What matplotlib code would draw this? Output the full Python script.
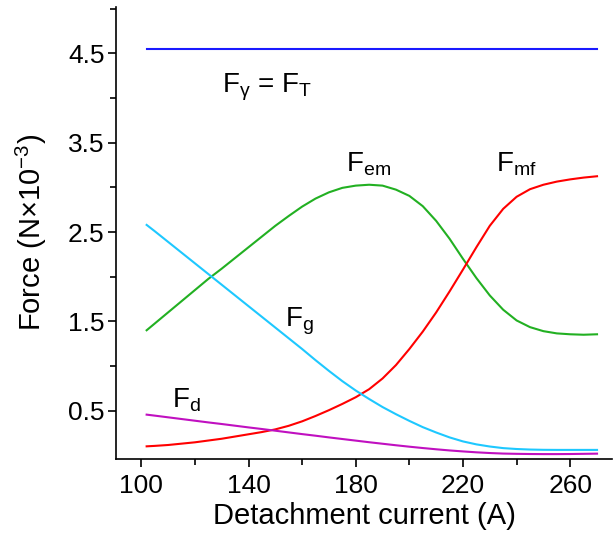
import matplotlib.pyplot as plt
from matplotlib.ticker import FixedLocator

plt.rcParams["font.family"] = ["Liberation Sans", "DejaVu Sans"]
plt.rcParams["mathtext.fontset"] = "custom"
plt.rcParams["mathtext.rm"] = "Liberation Sans"
plt.rcParams["mathtext.it"] = "Liberation Sans"

# Detachment current (A)
current = [102, 105, 110, 115, 120, 125, 130, 135, 140, 145, 150, 155,
           160, 165, 170, 175, 180, 185, 190, 195, 200, 205, 210, 215,
           220, 225, 230, 235, 240, 245, 250, 255, 260, 265, 270]

# Force components (N x 1e-3)
f_gamma = [4.55] * len(current)
f_em = [1.40, 1.475, 1.60, 1.725, 1.85, 1.975, 2.09, 2.21, 2.33, 2.45, 2.57, 2.68,
        2.785, 2.875, 2.945, 2.995, 3.02, 3.03, 3.02, 2.975, 2.905, 2.79, 2.625, 2.425,
        2.20, 1.985, 1.79, 1.63, 1.51, 1.435, 1.39, 1.365, 1.355, 1.35, 1.355]
f_mf = [0.10, 0.105, 0.115, 0.13, 0.145, 0.165, 0.185, 0.21, 0.235, 0.26, 0.29, 0.33,
        0.38, 0.44, 0.505, 0.575, 0.65, 0.74, 0.86, 1.01, 1.19, 1.385, 1.60, 1.835,
        2.08, 2.33, 2.57, 2.76, 2.895, 2.98, 3.03, 3.065, 3.09, 3.11, 3.125]
f_g = [2.58, 2.51, 2.39, 2.27, 2.15, 2.03, 1.91, 1.79, 1.67, 1.55, 1.43, 1.31,
       1.19, 1.065, 0.945, 0.83, 0.725, 0.63, 0.54, 0.46, 0.385, 0.315, 0.255, 0.20,
       0.155, 0.122, 0.098, 0.08, 0.07, 0.064, 0.061, 0.06, 0.06, 0.06, 0.06]
f_d = [0.455, 0.444, 0.425, 0.406, 0.387, 0.368, 0.35, 0.331, 0.312, 0.294, 0.275, 0.256,
       0.237, 0.219, 0.20, 0.182, 0.164, 0.146, 0.129, 0.112, 0.096, 0.081, 0.067, 0.054,
       0.043, 0.033, 0.025, 0.019, 0.016, 0.014, 0.013, 0.013, 0.014, 0.016, 0.018]

fig = plt.figure(figsize=(6.16, 5.43), dpi=100)
ax = fig.add_axes([0.188, 0.155, 0.806, 0.832])

lw = 1.5
ax.plot(current, f_gamma, color="#1a1aff", lw=lw)
ax.plot(current, f_em, color="#22b022", lw=lw)
ax.plot(current, f_mf, color="#ff0000", lw=lw)
ax.plot(current, f_g, color="#1ec8ff", lw=lw)
ax.plot(current, f_d, color="#c010c0", lw=lw)

fs_note = 20
ax.text(130, 4.12, r"F$_\gamma$ = F$_\mathrm{T}$", fontsize=fs_note, ha="left", va="center")
ax.text(176.5, 3.26, r"F$_\mathrm{em}$", fontsize=fs_note, ha="left", va="center")
ax.text(232.5, 3.26, r"F$_\mathrm{mf}$", fontsize=fs_note, ha="left", va="center")
ax.text(153.5, 1.50, r"F$_\mathrm{g}$", fontsize=fs_note, ha="left", va="center")
ax.text(111.5, 0.62, r"F$_\mathrm{d}$", fontsize=fs_note, ha="left", va="center")

ax.set_xlim(90.5, 275.7)
ax.set_ylim(-0.04, 5.02)
ax.set_xticks([100, 140, 180, 220, 260])
ax.xaxis.set_minor_locator(FixedLocator([120, 160, 200, 240]))
ax.set_yticks([0.5, 1.5, 2.5, 3.5, 4.5])
ax.yaxis.set_minor_locator(FixedLocator([1, 2, 3, 4, 5]))
ax.tick_params(which="both", direction="out", width=1.2, labelsize=19)
ax.tick_params(axis="y", which="major", pad=2)
ax.tick_params(axis="x", which="major", pad=5)
ax.tick_params(which="major", length=6)
ax.tick_params(which="minor", length=4)

ax.spines["top"].set_visible(False)
ax.spines["right"].set_visible(False)
for side in ("left", "bottom"):
    ax.spines[side].set_linewidth(1.2)

ax.set_xlabel("Detachment current (A)", fontsize=21, labelpad=3)
ax.set_ylabel(r"Force (N×10$^{-3}$)", fontsize=21, labelpad=14)

fig.savefig("out.png", dpi=100)
